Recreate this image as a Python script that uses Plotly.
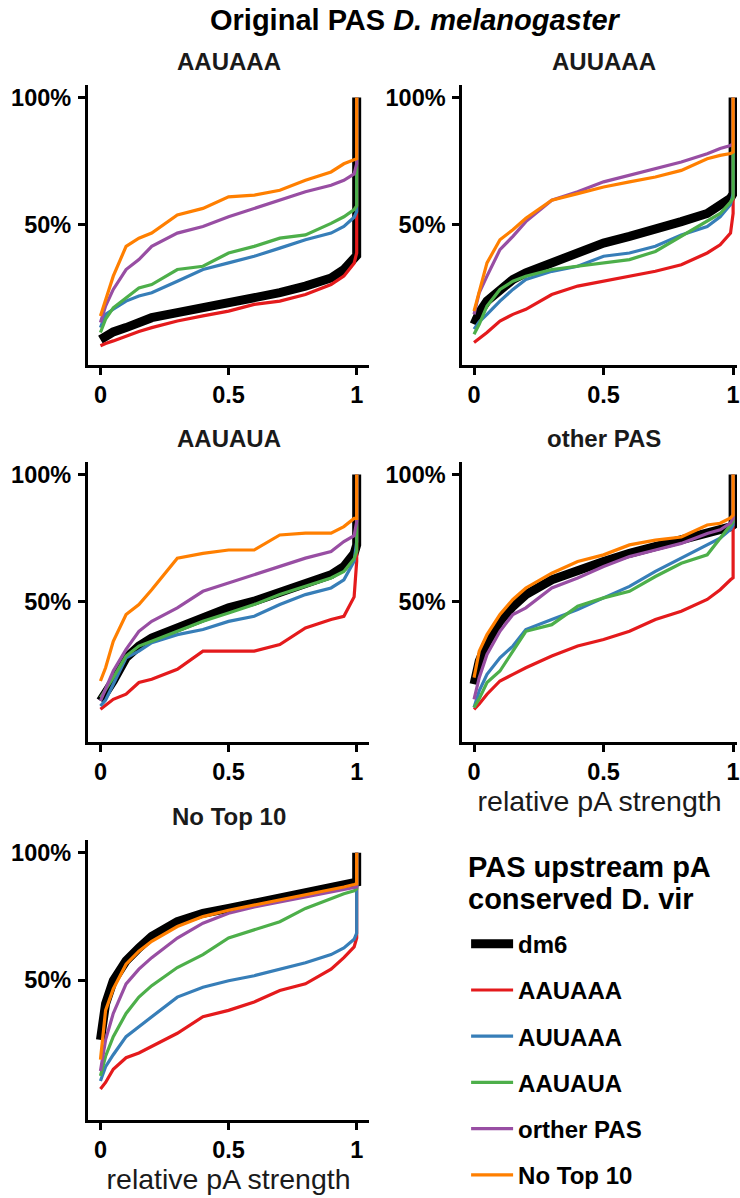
import plotly.graph_objects as go

# ---------------- data (percent of sites) ----------------
X_PTS = [0, 0.02, 0.05, 0.1, 0.15, 0.2, 0.3, 0.4, 0.5, 0.6, 0.7, 0.8, 0.9, 0.95, 0.99, 1.0, 1.0]

SERIES = ["dm6", "AAUAAA", "AUUAAA", "AAUAUA", "orther PAS", "No Top 10"]
PANEL_TITLES = ["AAUAAA", "AUUAAA", "AAUAUA", "other PAS", "No Top 10"]
LEGEND_TITLE_LINES = ["PAS upstream pA", "conserved D. vir"]
X_TICKS = [0, 0.5, 1]
X_TICK_TEXT = ["0", "0.5", "1"]
Y_TICKS = [50, 100]
Y_TICK_TEXT = ["50%", "100%"]

# Panel 1: AAUAAA
P1_DM6 = [5, 6.5, 8, 9.7, 11.8, 13.6, 15.6, 17.5, 19.5, 21.4, 23.4, 26, 29.2, 32.5, 36.5, 38, 100]
P1_AAUAAA = [2.6, 3.5, 4.5, 6.5, 8.2, 9.7, 12.3, 14.3, 16.2, 18.8, 20.1, 22.7, 26.6, 29.9, 35, 39, 100]
P1_AUUAAA = [9.7, 14.9, 16.9, 20.1, 22.1, 23.4, 27.9, 32.5, 35.1, 37.7, 40.9, 44.2, 46.8, 49.4, 53, 55.2, 100]
P1_AAUAUA = [7.8, 13, 17.5, 21.4, 25.3, 26.6, 32.5, 33.8, 39, 41.6, 44.8, 46.1, 50.6, 53.2, 56, 57.5, 100]
P1_OTHER = [11.7, 18.2, 24.7, 32.5, 36.4, 41.6, 46.8, 49.4, 53.2, 56.5, 59.7, 63, 65.6, 67.5, 70, 74, 100]
P1_NOTOP = [14.3, 20.8, 29.9, 41.6, 44.8, 46.8, 53.9, 56.5, 61, 61.7, 63.6, 67.5, 70.8, 74, 75.5, 76, 100]

# Panel 2: AUUAAA
P2_DM6 = [11, 15.6, 20.1, 24.7, 28.6, 31.2, 35.1, 39, 42.9, 45.5, 48.1, 51.3, 54.5, 57.8, 60.5, 62.3, 100]
P2_AAUAAA = [3.9, 5.5, 7.8, 12.3, 14.9, 16.9, 22.7, 26, 27.9, 29.9, 31.8, 34.4, 39, 42.2, 46.8, 54.5, 100]
P2_AUUAAA = [9.1, 12, 14.9, 20.1, 24.7, 28.6, 31.8, 33.8, 37.7, 39, 41.6, 46.1, 49.4, 53.2, 58, 62.3, 100]
P2_AAUAUA = [7.1, 11, 18.2, 24.7, 27.9, 29.9, 32.5, 33.8, 35.1, 36.4, 39.6, 45.5, 51.3, 54.5, 59, 60.5, 100]
P2_OTHER = [14.9, 23.4, 29.9, 40.3, 45.5, 51.3, 59.7, 63, 66.9, 69.5, 72.1, 74.7, 77.9, 80, 81.2, 81.8, 100]
P2_NOTOP = [16.2, 23.4, 35.1, 44.2, 48.1, 52.6, 59.7, 62.3, 64.9, 66.9, 68.8, 71.4, 76, 77.3, 78, 78.6, 100]

# Panel 3: AAUAUA
P3_DM6 = [11.2, 14, 19, 28.1, 32.7, 35.9, 39.8, 44.4, 47.7, 50.3, 53.5, 57.4, 60.7, 63.9, 69, 72.4, 100]
P3_AAUAAA = [7.9, 9.5, 11.8, 13.8, 18.4, 19.7, 23.6, 30.7, 30.7, 30.7, 33.3, 39.8, 43.1, 44.4, 52, 65.9, 100]
P3_AUUAAA = [9.2, 11.5, 17.7, 28.1, 30.7, 34, 37.2, 39.2, 42.4, 44.4, 49, 52.9, 55.5, 58.7, 66, 73.7, 100]
P3_AAUAUA = [12.5, 15.5, 20.3, 28.8, 32.7, 34.6, 38.5, 42.4, 45.7, 49, 52.9, 56.1, 59.4, 62, 67, 69.8, 100]
P3_OTHER = [11.2, 16, 22.9, 31.4, 38.5, 42.4, 47.7, 54.2, 57.4, 60.7, 63.9, 67.2, 69.8, 73.7, 76, 81.5, 100]
P3_NOTOP = [19, 24.2, 34.6, 45.1, 49, 54.8, 67.2, 69.1, 70.4, 70.4, 76.3, 77, 77, 79.6, 82.8, 82.8, 100]

# Panel 4: other PAS
P4_DM6 = [17.7, 26.8, 34, 42.4, 48.3, 52.9, 58.7, 62.6, 65.9, 69.1, 71.7, 73.7, 76.3, 78.3, 79.5, 80.2, 100]
P4_AAUAAA = [7.9, 10, 13.8, 19, 21.6, 24.2, 28.8, 32.7, 35.3, 38.5, 43.1, 46.4, 51, 54.8, 58.7, 59.5, 100]
P4_AUUAAA = [8.6, 15.1, 21.6, 28.1, 32.7, 39.2, 43.1, 47, 51.6, 56.1, 62, 67.2, 72.4, 75, 78.5, 80.2, 100]
P4_AAUAUA = [8.6, 12, 18.4, 22.9, 30.7, 38.5, 41.1, 48.3, 51.6, 54.2, 60, 65.2, 68.5, 75, 80, 81.5, 100]
P4_OTHER = [11.8, 20.3, 29.4, 38.5, 45.1, 47.7, 55.5, 59.4, 63.9, 67.8, 70.4, 73, 76.9, 78.3, 81, 82.8, 100]
P4_NOTOP = [20.3, 30.7, 37.2, 45.1, 51, 55.5, 61.3, 65.9, 68.5, 72.4, 74.3, 75.5, 80.2, 80.9, 83, 84.1, 100]

# Panel 5: No Top 10
P5_DM6 = [26.5, 40.7, 49.7, 57.5, 62.6, 67.1, 72.9, 76.2, 78.1, 80, 82, 83.9, 85.8, 87.1, 88, 88.4, 100]
P5_AAUAAA = [7.2, 9.8, 15, 19.5, 21.4, 24, 29.1, 35.6, 38.1, 41.4, 45.9, 48.5, 54.3, 58.8, 63, 66.5, 100]
P5_AUUAAA = [10.4, 16, 20.7, 27.8, 31.7, 35.6, 43.3, 47.2, 49.7, 51.7, 54.3, 56.8, 60, 62.6, 66, 68.4, 100]
P5_AAUAUA = [12.4, 20.1, 27.8, 36.9, 43.3, 47.8, 54.9, 60, 66.5, 69.7, 72.9, 78.1, 82, 83.9, 85, 85.8, 100]
P5_OTHER = [14.3, 26.5, 36.9, 48.5, 54.3, 58.8, 66.5, 72.3, 76.2, 78.7, 80.7, 82.6, 84.5, 85.5, 86, 86.5, 100]
P5_NOTOP = [18.8, 38.1, 46.5, 56.2, 61.3, 65.2, 71, 74.9, 77.4, 79.4, 81.3, 83.2, 85.2, 86.5, 87.5, 87.8, 100]

PANEL_DATA = [
    [P1_DM6, P1_AAUAAA, P1_AUUAAA, P1_AAUAUA, P1_OTHER, P1_NOTOP],
    [P2_DM6, P2_AAUAAA, P2_AUUAAA, P2_AAUAUA, P2_OTHER, P2_NOTOP],
    [P3_DM6, P3_AAUAAA, P3_AUUAAA, P3_AAUAUA, P3_OTHER, P3_NOTOP],
    [P4_DM6, P4_AAUAAA, P4_AUUAAA, P4_AAUAUA, P4_OTHER, P4_NOTOP],
    [P5_DM6, P5_AAUAAA, P5_AUUAAA, P5_AAUAUA, P5_OTHER, P5_NOTOP],
]

# ---------------- styling ----------------
W, H = 740, 1198
FONT = "Liberation Sans, Arial, Helvetica, sans-serif"
COLORS = ["#000000", "#E41A1C", "#377EB8", "#4DAF4A", "#984EA3", "#FF7F00"]
WIDTHS = [9, 3.2, 3.2, 3.2, 3.2, 3.2]
TICK_SIZE = 23.5


def px_x(p):
    return p / W


def px_y(p):
    return 1 - p / H


LEFT_DOM = [px_x(88), px_x(371)]
RIGHT_DOM = [px_x(464), 1.0]
LEFT_RANGE = [-0.05, 1.05]
RIGHT_RANGE = [-0.046, 1.015]
ROWS = [(85, 366), (463, 744), (842, 1123)]
Y_RANGE = [-5, 105]

PANEL_POS = [
    (LEFT_DOM, LEFT_RANGE, 0),
    (RIGHT_DOM, RIGHT_RANGE, 0),
    (LEFT_DOM, LEFT_RANGE, 1),
    (RIGHT_DOM, RIGHT_RANGE, 1),
    (LEFT_DOM, LEFT_RANGE, 2),
]

fig = go.Figure()
layout_axes = {}
annotations = []

for i, (series_vals, (xdom, xrng, row)) in enumerate(zip(PANEL_DATA, PANEL_POS)):
    k = i + 1
    xa = "x" if k == 1 else f"x{k}"
    ya = "y" if k == 1 else f"y{k}"
    for name, vals, col, w in zip(SERIES, series_vals, COLORS, WIDTHS):
        fig.add_trace(go.Scatter(
            x=X_PTS, y=vals, mode="lines", name=name,
            line=dict(color=col, width=w),
            xaxis=xa, yaxis=ya,
            legendgroup=name, showlegend=(k == 1),
        ))
    top, bot = ROWS[row]
    show_title = k in (4, 5)
    layout_axes["xaxis" if k == 1 else f"xaxis{k}"] = dict(
        domain=xdom, range=xrng, anchor=ya,
        showline=True, linecolor="black", linewidth=2.5,
        ticks="outside", ticklen=7, tickwidth=2.5, tickcolor="black",
        tickvals=X_TICKS, ticktext=X_TICK_TEXT,
        tickfont=dict(family=FONT, size=TICK_SIZE, color="black", weight="bold"),
        ticklabelstandoff=0, ticklabeloverflow="allow",
        showgrid=False, zeroline=False,
        title=dict(text="relative pA strength" if show_title else "",
                   font=dict(family=FONT, size=28.5, color="#1a1a1a"), standoff=5),
    )
    layout_axes["yaxis" if k == 1 else f"yaxis{k}"] = dict(
        domain=[px_y(bot), px_y(top)], range=Y_RANGE, anchor=xa,
        showline=True, linecolor="black", linewidth=2.5,
        ticks="outside", ticklen=7, tickwidth=2.5, tickcolor="black",
        tickvals=Y_TICKS, ticktext=Y_TICK_TEXT,
        tickfont=dict(family=FONT, size=TICK_SIZE, color="black", weight="bold"),
        ticklabelstandoff=2,
        showgrid=False, zeroline=False,
    )
    cx = 229.5 if xdom is LEFT_DOM else 606
    annotations.append(dict(
        text=f"<b>{PANEL_TITLES[i]}</b>", x=px_x(cx), y=px_y(top - 23),
        xref="paper", yref="paper", xanchor="center", yanchor="middle",
        showarrow=False, font=dict(family=FONT, size=24, color="#1a1a1a"),
    ))

annotations.append(dict(
    text="<b>Original PAS <i>D. melanogaster</i></b>", x=px_x(417), y=px_y(20),
    xref="paper", yref="paper", xanchor="center", yanchor="middle",
    showarrow=False, font=dict(family=FONT, size=29, color="black"),
))

# legend title (two lines placed like the reference)
for line_text, yc in zip(LEGEND_TITLE_LINES, [869, 901]):
    annotations.append(dict(
        text=f"<b>{line_text}</b>", x=px_x(468), y=px_y(yc),
        xref="paper", yref="paper", xanchor="left", yanchor="middle",
        showarrow=False, font=dict(family=FONT, size=29, color="black"),
    ))

fig.update_layout(
    width=W, height=H, autosize=False,
    margin=dict(l=0, r=0, t=0, b=0),
    paper_bgcolor="white", plot_bgcolor="white",
    font=dict(family=FONT, color="black"),
    annotations=annotations,
    legend=dict(
        x=px_x(468), y=px_y(924), xanchor="left", yanchor="top",
        bgcolor="rgba(0,0,0,0)",
        font=dict(family=FONT, size=24, color="black", weight="bold"),
        tracegroupgap=12, itemwidth=42,
    ),
    **layout_axes,
)

fig.write_html("out.html")
